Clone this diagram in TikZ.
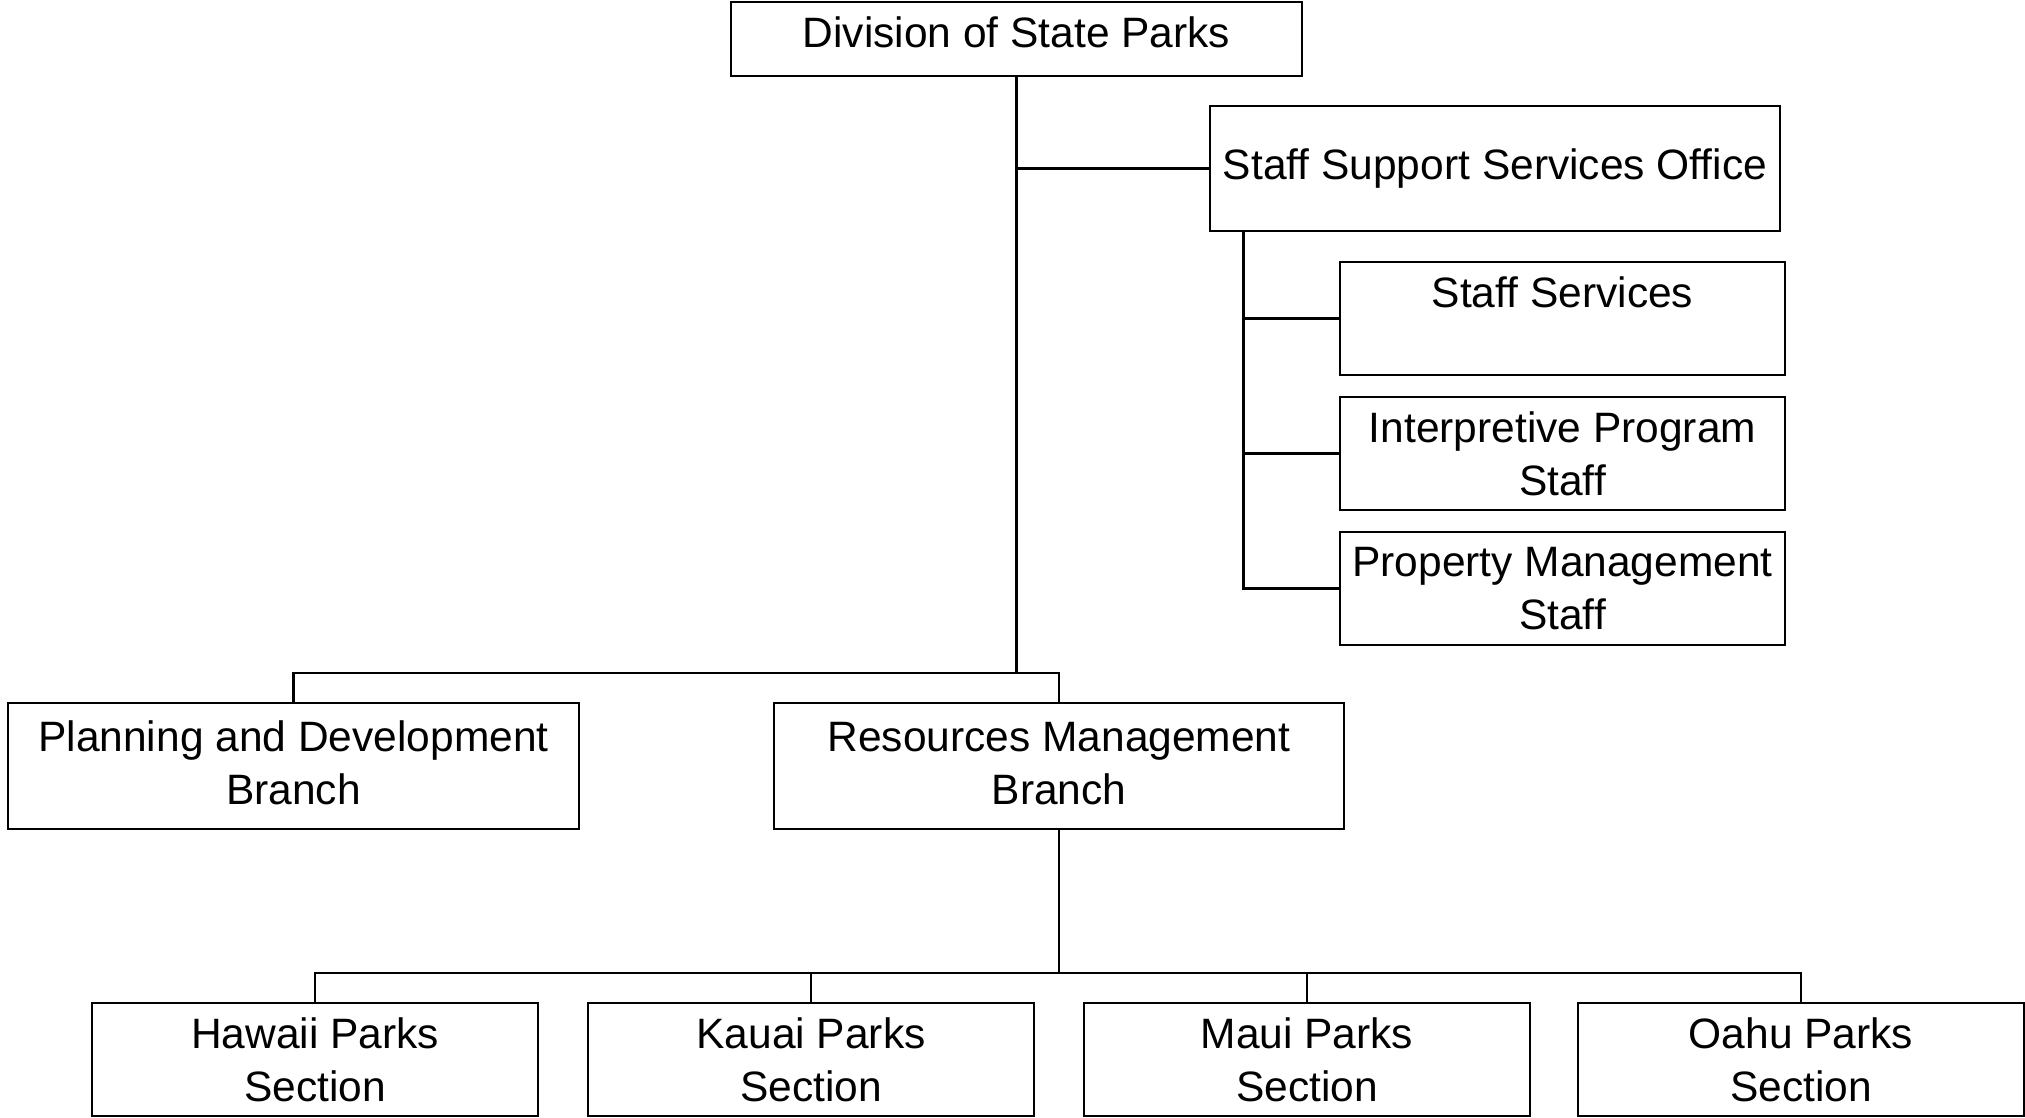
\documentclass[tikz,border=0pt]{standalone}
\usepackage{fontspec}
\setmainfont{Liberation Sans}
\newcommand{\liftx}[2]{\raisebox{#1}[\height][\depth]{#2}}
\newcommand{\twoliner}[3]{\raisebox{#1}[\height][\depth]{\begin{tabular}{@{}c@{}}#2\\#3\end{tabular}}}
\begin{document}
\begin{tikzpicture}[x=0.5pt,y=-0.5pt,
  box/.style={draw=black, line width=1.4pt, align=center, inner sep=0pt,
    font=\fontsize{21.25}{26.5}\selectfont},
  conn/.style={draw=black, line width=1.4pt}]
\useasboundingbox (0,0) rectangle (2025,1118);
% top
\node[box, minimum width=285.5pt, minimum height=37pt] (div) at (1016.5,39) {\liftx{3.5pt}{Division of State Parks}};
\node[box, minimum width=285pt, minimum height=62.5pt] (ssso) at (1495,168.5) {Staff Support Services Office};
\node[box, minimum width=222.5pt, minimum height=56.5pt] (ss) at (1562.5,318.5) {\liftx{13pt}{Staff Services}};
\node[box, minimum width=222.5pt, minimum height=56.5pt] (ips) at (1562.5,453.5) {Interpretive Program\\Staff};
\node[box, minimum width=222.5pt, minimum height=56.5pt] (pms) at (1562.5,588.5) {Property Management\\Staff};
% branches
\node[box, minimum width=285.5pt, minimum height=63pt] (pdb) at (293.5,766) {\twoliner{-0.5pt}{Planning and Development}{Branch}};
\node[box, minimum width=285pt, minimum height=63pt] (rmb) at (1059,766) {\twoliner{-0.5pt}{Resources Management}{Branch}};
% sections
\node[box, minimum width=223pt, minimum height=56.5pt] (hps) at (315,1059.5) {Hawaii Parks\\Section};
\node[box, minimum width=223pt, minimum height=56.5pt] (kps) at (811,1059.5) {Kauai Parks\\Section};
\node[box, minimum width=223pt, minimum height=56.5pt] (mps) at (1307,1059.5) {Maui Parks\\Section};
\node[box, minimum width=223pt, minimum height=56.5pt] (ops) at (1801,1059.5) {Oahu Parks\\Section};
% connectors
\coordinate (j1) at (div.south |- 0,673);
\draw[conn] (div.south) -- (j1);
\draw[conn] (pdb.north) -- (pdb.north |- j1) -- (rmb.north |- j1) -- (rmb.north);
\draw[conn] (div.south |- ssso.west) -- (ssso.west);
\coordinate (sv) at ([xshift=17.5pt]ssso.south west);
\draw[conn] (sv) -- (sv |- pms.west) -- (pms.west);
\draw[conn] (sv |- ss.west) -- (ss.west);
\draw[conn] (sv |- ips.west) -- (ips.west);
\coordinate (j2) at (rmb.south |- 0,973);
\draw[conn] (rmb.south) -- (j2);
\draw[conn] (hps.north) -- (hps.north |- j2) -- (ops.north |- j2) -- (ops.north);
\draw[conn] (kps.north) -- (kps.north |- j2);
\draw[conn] (mps.north) -- (mps.north |- j2);
\end{tikzpicture}
\end{document}
